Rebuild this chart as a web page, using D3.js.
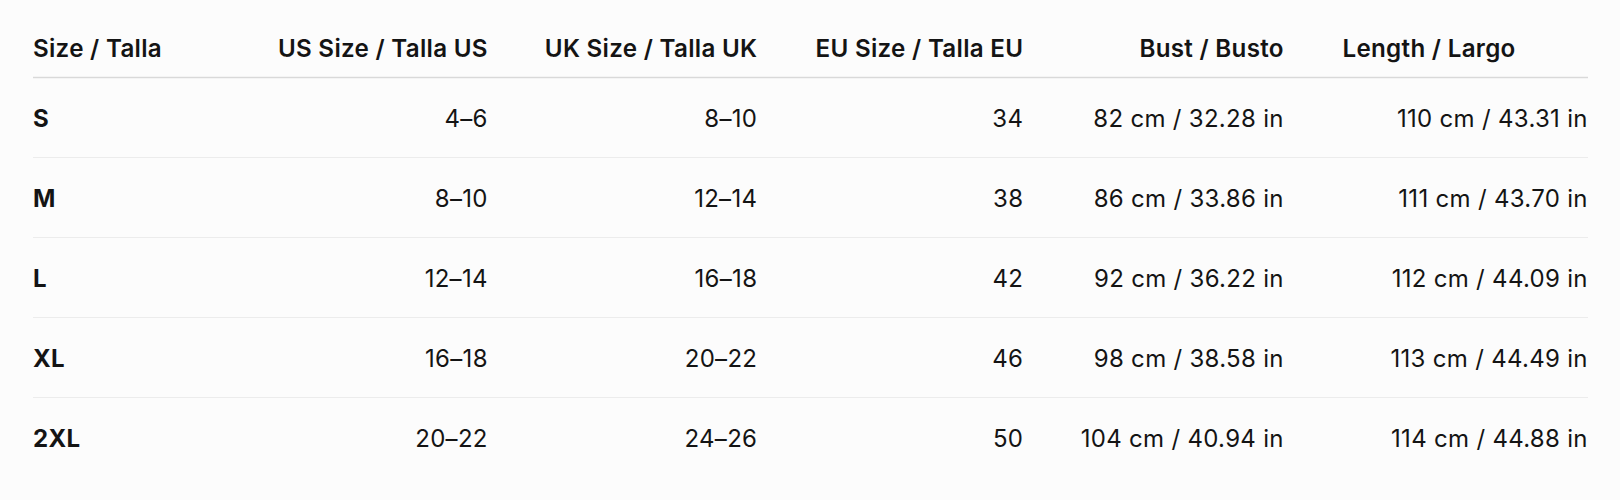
<!DOCTYPE html>
<html>
<head>
<meta charset="utf-8">
<script src="https://cdn.jsdelivr.net/npm/d3@7"></script>
<style>
  html, body { margin: 0; padding: 0; background: #fcfcfc; }
  svg { display: block; }
  text { font-family: Inter, "Noto Sans", sans-serif; fill: #141414; }
</style>
</head>
<body>
<svg id="chart" width="1620" height="500"></svg>
<script>
// ---- data ----
const headers = ["Size / Talla", "US Size / Talla US", "UK Size / Talla UK", "EU Size / Talla EU", "Bust / Busto", "Length / Largo"];
const sizes = ["S", "M", "L", "XL", "2XL"];
const usSizes = ["4–6", "8–10", "12–14", "16–18", "20–22"];
const ukSizes = ["8–10", "12–14", "16–18", "20–22", "24–26"];
const euSizes = [34, 38, 42, 46, 50];
const bustCm = [82, 86, 92, 98, 104];
const bustIn = ["32.28", "33.86", "36.22", "38.58", "40.94"];
const lengthCm = [110, 111, 112, 113, 114];
const lengthIn = ["43.31", "43.70", "44.09", "44.49", "44.88"];

// ---- layout ----
const W = 1620, H = 500;
const left = 33, right = 1588;
const headFont = 24.2, bodyFont = 24;
const headerBaseline = 56.7;
const headerLineY = 77.5;
const rowH = 80;
const colRight = [null, 487.8, 757.3, 1023.3, 1283.8, 1587.8];
const colAlign = ["start", "end", "end", "end", "end", "end"];
const headerX = [left, 487.8, 757.3, 1023.3, 1283.8, 1342.5];
const headerAnchor = ["start", "end", "end", "end", "end", "start"];

const rows = sizes.map((s, i) => [
  s, usSizes[i], ukSizes[i], String(euSizes[i]),
  `${bustCm[i]} cm / ${bustIn[i]} in`,
  `${lengthCm[i]} cm / ${lengthIn[i]} in`
]);

const svg = d3.select("#chart");
svg.append("rect").attr("width", W).attr("height", H).attr("fill", "#fcfcfc");

const y = d3.scaleBand().domain(d3.range(rows.length))
  .range([headerLineY, headerLineY + rowH * rows.length]);

// header
svg.append("g").selectAll("text").data(headers).join("text")
  .attr("x", (d, i) => headerX[i])
  .attr("y", headerBaseline)
  .attr("text-anchor", (d, i) => headerAnchor[i])
  .attr("font-size", headFont)
  .attr("font-weight", 600)
  .attr("letter-spacing", 0.28)
  .text(d => d);

svg.append("line")
  .attr("x1", left).attr("x2", right)
  .attr("y1", headerLineY).attr("y2", headerLineY)
  .attr("stroke", "#d9d9d9").attr("stroke-width", 1.3);

// row separators
svg.append("g").selectAll("line").data(d3.range(1, rows.length)).join("line")
  .attr("x1", left).attr("x2", right)
  .attr("y1", d => y(d)).attr("y2", d => y(d))
  .attr("stroke", "#ececec").attr("stroke-width", 1.2);

// rows
const rowG = svg.append("g").selectAll("g").data(rows).join("g")
  .attr("transform", (d, i) => `translate(0,${y(i) + y.bandwidth() / 2})`);

rowG.selectAll("text").data(d => d).join("text")
  .attr("x", (d, i) => i === 0 ? left : colRight[i])
  .attr("y", 0)
  .attr("dy", "0.38em")
  .attr("text-anchor", (d, i) => colAlign[i])
  .attr("font-size", bodyFont)
  .attr("font-weight", (d, i) => i === 0 ? 700 : 400)
  .attr("letter-spacing", 0.3)
  .text(d => d);
</script>
</body>
</html>
